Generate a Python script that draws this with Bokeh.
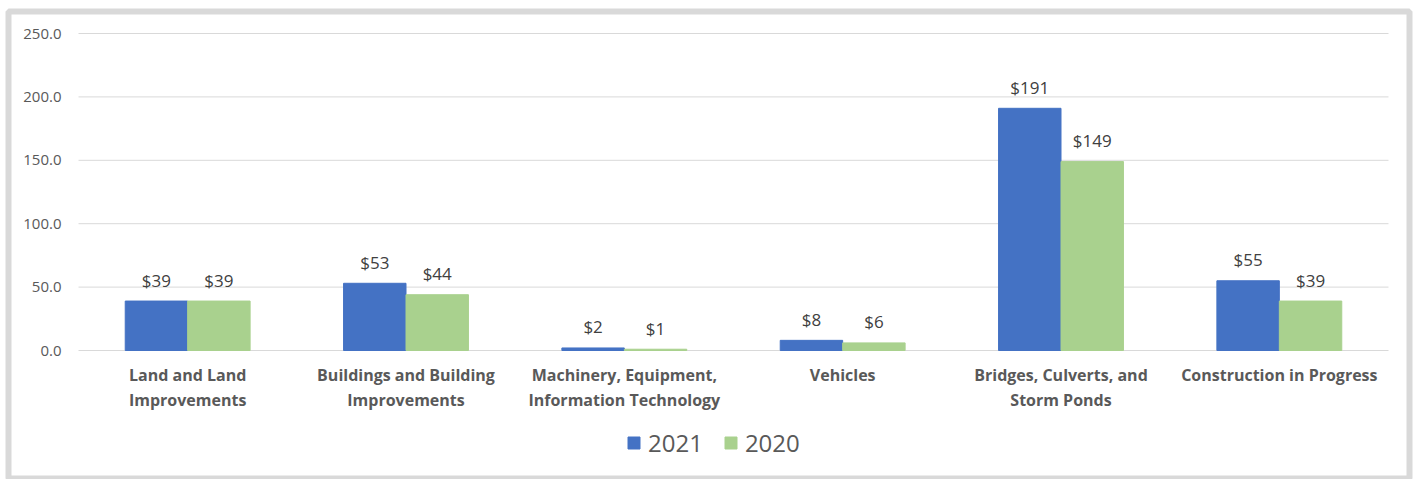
from bokeh.plotting import figure
from bokeh.models import Range1d, Legend, LegendItem, ColumnDataSource
from bokeh.core.properties import value
from bokeh.embed import file_html
from bokeh.resources import INLINE

categories = ["Land and Land\nImprovements", "Buildings and Building\nImprovements",
              "Machinery, Equipment,\nInformation Technology", "Vehicles",
              "Bridges, Culverts, and\nStorm Ponds", "Construction in Progress"]
values_2021 = [39, 53, 2, 8, 191, 55]
values_2020 = [39, 44, 1, 6, 149, 39]
y_ticks = [0, 50, 100, 150, 200, 250]
y_tick_labels = ["0.0", "50.0", "100.0", "150.0", "200.0", "250.0"]

FONT = "Open Sans"
C2021 = "#4472c4"
C2020 = "#a9d18e"
GRID = "#d9d9d9"
TXT = "#595959"

# canvas / layout (pixels)
W, H = 1416, 479
FL, FR, FT, FB = 8, 1409, 11, 479          # frame edges (outline = outer border)
PL, PR, PT, PB = 78, 1388, 33, 350          # plotting area (value axis 0..250)

n = len(categories)
ymax = y_ticks[-1]
sx = (PR - PL) / n
sy = (PB - PT) / ymax
x_range = Range1d(-(PL - FL) / sx, n + (FR - PR) / sx)
y_range = Range1d(-(FB - PB) / sy, ymax + (PT - FT) / sy)

p = figure(x_range=x_range, y_range=y_range, width=W, height=H,
           output_backend="svg", toolbar_location=None,
           min_border_left=FL, min_border_right=W - FR, min_border_top=FT, min_border_bottom=H - FB)
p.xaxis.visible = False
p.yaxis.visible = False
p.grid.visible = False
p.background_fill_color = "white"
p.border_fill_color = "white"
p.outline_line_color = GRID
p.outline_line_width = 6

xc = [i + 0.5 for i in range(n)]
w = 0.286
src = ColumnDataSource(data=dict(
    x21=[x - w / 2 for x in xc], x20=[x + w / 2 for x in xc], xc=xc,
    v21=values_2021, v20=values_2020, cat=categories,
    l21=[f"${v}" for v in values_2021], l20=[f"${v}" for v in values_2020],
    zero=[0] * n,
))

# gridlines
p.segment(x0=[0] * len(y_ticks), x1=[n] * len(y_ticks), y0=y_ticks, y1=y_ticks,
          line_color=GRID, line_width=1)

# y tick labels
p.text(x=[0] * len(y_ticks), y=y_ticks, text=y_tick_labels, x_offset=-17,
       text_align="right", text_baseline="middle",
       text_font=value(FONT), text_font_size="15px", text_color=TXT)

# bars
r21 = p.vbar(x="x21", top="v21", width=w, source=src, fill_color=C2021, line_color=C2021)
r20 = p.vbar(x="x20", top="v20", width=w, source=src, fill_color=C2020, line_color=C2020)

# value labels
p.text(x="x21", y="v21", text="l21", source=src, text_align="center", text_baseline="alphabetic",
       y_offset=-21, text_font=value(FONT), text_font_size="17px", text_color="#404040")
p.text(x="x20", y="v20", text="l20", source=src, text_align="center", text_baseline="alphabetic",
       y_offset=-21, text_font=value(FONT), text_font_size="17px", text_color="#404040")

# category labels
p.text(x="xc", y="zero", text="cat", source=src, text_align="center", text_baseline="top",
       y_offset=13, text_font=value(FONT), text_font_size="16px", text_font_style="bold",
       text_color=TXT, text_line_height=1.15)

legend = Legend(items=[LegendItem(label="2021", renderers=[r21]),
                       LegendItem(label="2020", renderers=[r20])],
                orientation="horizontal", location=(618, 20),
                label_text_font=FONT, label_text_font_size="24px", label_text_color=TXT,
                glyph_width=15, glyph_height=15, spacing=20, label_standoff=7,
                border_line_color=None, background_fill_alpha=0, margin=0, padding=0)
p.add_layout(legend)

open("out.html", "w").write(file_html(p, INLINE))
